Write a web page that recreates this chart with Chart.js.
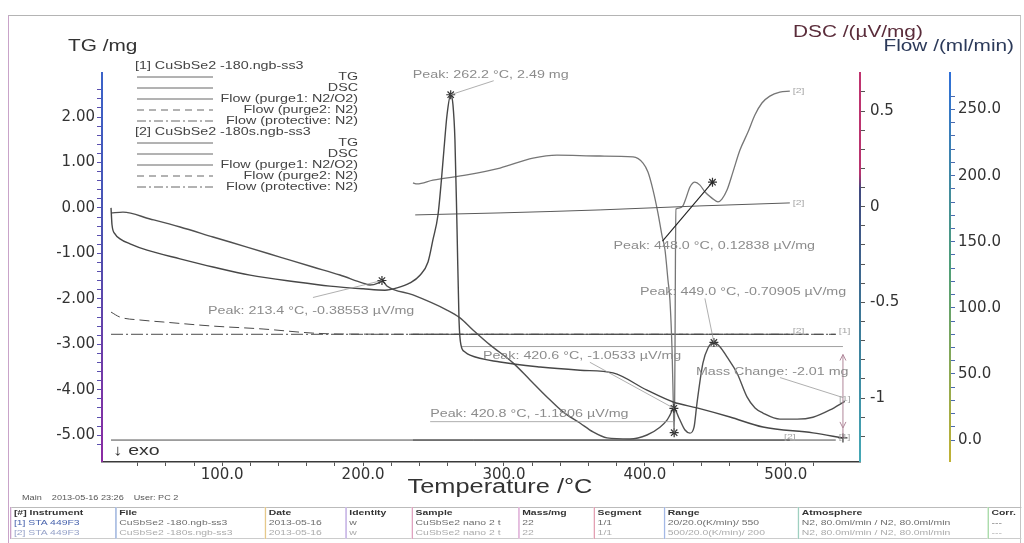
<!DOCTYPE html>
<html>
<head>
<meta charset="utf-8">
<script src="https://cdn.jsdelivr.net/npm/chart.js@4.4.1/dist/chart.umd.min.js"></script>
<style>
body { margin: 0; background: #fff; }
#wrap { position: relative; width: 1024px; height: 543px; overflow: hidden; font-family: "Liberation Sans", Arial, sans-serif; }
#sta { position: absolute; left: 0; top: 0; }
#frame { position: absolute; left: 8px; top: 15px; width: 1011px; height: 540px;
  border-top: 1px solid #b4b4b4; border-left: 1px solid #c9a3c9; border-right: 1px solid #c4c4c4; }
#stamp { position: absolute; left: 22px; top: 494px; font-size: 7px; color: #555; white-space: pre;
  transform: scaleX(1.3); transform-origin: 0 0; }
#runs { position: absolute; left: 10px; top: 507px; width: 777px; border-collapse: collapse; font-size: 8px; table-layout: fixed;
  transform: scaleX(1.3); transform-origin: 0 0; border-top: 1px solid #bbb; border-bottom: 1px solid #ccc; }
#runs td { box-sizing: border-box; height: 10px; line-height: 10px; padding: 0 0 0 2px; white-space: nowrap; overflow: hidden; }
#runs tr.head td { font-weight: bold; color: #333; }
#runs tr.r1 td { color: #6d6d6d; }
#runs tr.r2 td { color: #ababab; }
</style>
</head>
<body>
<div id="wrap">
  <canvas id="sta" width="1024" height="505"></canvas>
  <div id="frame"></div>
  <div id="stamp">Main    2013-05-16 23:26    User: PC 2</div>
  <table id="runs"></table>
</div>
<script>
// run [1]: heating 20 -> 550 °C
const tg1Temp = [21.1, 21.8, 23.9, 27.5, 34.6, 46.7, 70.1, 93.5, 119.8, 153.1, 176.5, 200.0, 215.5, 224.1, 233.3,
  240.4, 246.1, 249.6, 253.2, 255.3, 257.4, 259.6, 262.2, 263.8, 265.2, 266.7, 268.1, 269.5, 272.3, 275.9,
  297.2, 325.6, 354.0, 377.4, 401.5, 420.1, 437.0, 460.4, 483.8, 519.3, 540.6];
const tg1Mass = [0.00, -0.37, -0.57, -0.68, -0.79, -0.93, -1.12, -1.30, -1.48, -1.63, -1.72, -1.78, -1.81, -1.76, -1.65,
  -1.48, -1.19, -0.70, -0.15, 0.51, 1.28, 2.05, 2.49, 2.27, 1.50, -0.48, -2.47, -3.02, -3.17, -3.24,
  -3.39, -3.50, -3.57, -3.63, -4.01, -4.27, -4.40, -4.60, -4.82, -4.95, -5.06];

const dsc1Temp = [21.1, 29.6, 48.8, 70.1, 93.5, 117.6, 141.0, 164.4, 183.6, 199.9, 204.9, 210.6, 213.4, 216.9, 235.4,
  259.5, 268.8, 278.0, 290.1, 306.4, 318.5, 330.5, 341.9, 353.9, 363.2, 373.1, 389.4, 401.5, 410.7, 415.7,
  417.8, 420.6, 424.2, 428.5, 432.0, 434.9, 437.0, 441.2, 444.8, 449.0, 453.4, 458.3, 465.4, 472.5, 478.2,
  483.8, 495.9, 508.0, 519.3, 531.4, 541.9];
const dsc1Signal = [-0.033, -0.028, -0.064, -0.106, -0.158, -0.211, -0.263, -0.315, -0.357, -0.399, -0.409, -0.399, -0.38553, -0.414, -0.461,
  -0.540, -0.581, -0.644, -0.722, -0.816, -0.905, -0.994, -1.072, -1.130, -1.177, -1.208, -1.214, -1.193, -1.152, -1.115,
  -1.089, -1.0533, -1.104, -1.167, -1.183, -1.152, -1.026, -0.817, -0.738, -0.70905, -0.733, -0.785, -0.869, -0.994, -1.052,
  -1.078, -1.110, -1.110, -1.100, -1.062, -1.017];

// run [2]: cooling 500 -> 200 °C (stored in rising temperature)
const tg2Temp = [237.0, 297.2, 368.2, 439.1, 502.9];
const tg2Mass = [-0.154, -0.110, -0.044, 0.044, 0.110];

const dsc2Temp = [235.4, 238.3, 249.6, 273.7, 297.2, 320.6, 337.6, 368.2, 391.6, 398.7, 402.2, 405.8, 409.3, 412.1, 414.3,
  416.4, 417.8, 419.3, 420.3, 420.8, 421.1, 421.4, 421.7, 422.1, 424.2, 427.0, 429.2, 432.0, 435.5, 439.1,
  442.7, 447.6, 451.9, 454.7, 458.3, 462.5, 467.5, 473.2, 478.1, 483.1, 488.7, 495.8, 502.9];
const dsc2Signal = [0.124, 0.119, 0.139, 0.166, 0.202, 0.254, 0.270, 0.265, 0.260, 0.228, 0.181, 0.087, -0.033, -0.148, -0.226,
  -0.383, -0.487, -0.749, -1.062, -1.1806, -1.062, -0.749, -0.278, -0.012, -0.007, 0.004, 0.045, 0.103, 0.12838, 0.113,
  0.077, 0.045, 0.025, 0.040, 0.087, 0.181, 0.296, 0.390, 0.479, 0.542, 0.578, 0.599, 0.604];

// gas flows
const purge2Temp = [21.1, 27.5, 41.7, 58.1, 93.5, 129.0, 164.4, 183.6, 300.0, 420.0, 535.5];
const purge2Flow = [96.8, 93.0, 90.8, 89.3, 86.2, 84.0, 80.9, 80.2, 80.0, 80.0, 80.0];
const run1FlowTemp = [21.1, 535.5];
const run1Protective = [80.0, 80.0];
const run1Purge1 = [0.0, 0.0];
const run2FlowTemp = [235.4, 502.9];
const run2Purge = [80.0, 80.0];
const run2Purge1 = [0.0, 0.0];

// evaluated peaks
const peakAxis = ['yTG', 'yDSC', 'yDSC', 'yDSC', 'yDSC', 'yDSC'];
const peakTemp = [262.2, 213.4, 448.0, 449.0, 420.6, 420.8];
const peakValue = [2.49, -0.38553, 0.12838, -0.70905, -1.0533, -1.1806];
const peakUnit = ['mg', 'µV/mg', 'µV/mg', 'µV/mg', 'µV/mg', 'µV/mg'];

// mass change step of run [1]
const stepTemp = [269.5, 540.6];
const stepStart = -3.05;
const stepEnd = -5.06;

// axis ranges
const tRange = [14.7, 552.7];
const tgRange = [-5.59, 2.99];
const dscRange = [-1.334, 0.704];
const flowRange = [-16.6, 278.4];

const legendRuns = ['[1] CuSbSe2 -180.ngb-ss3', '[2] CuSbSe2 -180s.ngb-ss3'];
const legendItems = ['TG', 'DSC', 'Flow (purge1: N2/O2)', 'Flow (purge2: N2)', 'Flow (protective: N2)'];

const tableHead = ['[#] Instrument', 'File', 'Date', 'Identity', 'Sample', 'Mass/mg', 'Segment', 'Range', 'Atmosphere', 'Corr.'];
const tableRows = [
  ['[1] STA 449F3', 'CuSbSe2 -180.ngb-ss3', '2013-05-16', 'w', 'CuSbSe2 nano 2 t', '22', '1/1', ' 20/20.0(K/min)/ 550', 'N2, 80.0ml/min / N2, 80.0ml/min', '---'],
  ['[2] STA 449F3', 'CuSbSe2 -180s.ngb-ss3', '2013-05-16', 'w', 'CuSbSe2 nano 2 t', '22', '1/1', '500/20.0(K/min)/ 200', 'N2, 80.0ml/min / N2, 80.0ml/min', '---']
];

// ---- table under the plot
const colW = [81, 115, 62, 51, 82, 58, 54, 103, 146, 25];
const colLine = ['#c9a3c9', '#8fa9d9', '#e6c98a', '#b9a3e0', '#e0a3c0', '#d9a0d0', '#e3a0b3', '#a3b8e6', '#9fd0c0', '#a3d9a3'];
const table = document.getElementById('runs');
const cols = document.createElement('colgroup');
colW.forEach(w => {
  const col = document.createElement('col');
  col.style.width = w + 'px';
  cols.appendChild(col);
});
table.appendChild(cols);
[tableHead, ...tableRows].forEach((row, r) => {
  const tr = document.createElement('tr');
  tr.className = r === 0 ? 'head' : 'r' + r;
  row.forEach((txt, c) => {
    const td = document.createElement('td');
    td.textContent = txt;
    td.style.borderLeft = '1px solid ' + colLine[c];
    if (c === 0 && r > 0) td.style.color = r === 1 ? '#4863ad' : '#97a3c9';
    tr.appendChild(td);
  });
  table.appendChild(tr);
});

// ---- chart
const pts = (xs, ys) => xs.map((x, i) => ({ x: x, y: ys[i] }));
const onStep = (v, step) => Math.abs(v / step - Math.round(v / step)) < 1e-6;
const tickFont = { family: '"DejaVu Sans", sans-serif', size: 15 };
const stretch = 1.3;

function curve(label, data, axis, color, width, dash) {
  return {
    label: label, data: data, yAxisID: axis,
    borderColor: color, borderWidth: width, borderDash: dash || [],
    pointRadius: 0, fill: false, cubicInterpolationMode: 'monotone'
  };
}

function wideText(ctx, txt, x, y, size, color, align, family) {
  ctx.save();
  ctx.font = size + 'px ' + (family || '"Liberation Sans", Arial, sans-serif');
  ctx.fillStyle = color;
  ctx.textBaseline = 'middle';
  ctx.textAlign = 'left';
  const w = ctx.measureText(txt).width * stretch;
  const x0 = align === 'right' ? x - w : (align === 'center' ? x - w / 2 : x);
  ctx.translate(x0, y);
  ctx.scale(stretch, 1);
  ctx.fillText(txt, 0, 0);
  ctx.restore();
}

function line(ctx, x1, y1, x2, y2, color, width, dash) {
  ctx.save();
  ctx.strokeStyle = color;
  ctx.lineWidth = width;
  ctx.setLineDash(dash || []);
  ctx.beginPath();
  ctx.moveTo(x1, y1);
  ctx.lineTo(x2, y2);
  ctx.stroke();
  ctx.restore();
}

// where each peak label sits relative to its marker, and its leader line
const peakLabelAt = [[-38, -20], [-174, 30], [-99, 64], [-74, -50], [-191, -52], [-244, -19]];
const peakLeader = [[[43, -14]], [[-69, 17]], [[-50, 59]], [[-9, -44]], [[-84, -46]], [[-244, -11], [0, -11]]];

const decorations = {
  id: 'decorations',
  afterDraw(chart) {
    const ctx = chart.ctx;
    const { top, bottom } = chart.chartArea;
    const sx = chart.scales.x, sTG = chart.scales.yTG, sDSC = chart.scales.yDSC, sFlow = chart.scales.yFlow;

    // coloured value axes
    const axisLine = (x, stops) => {
      const g = ctx.createLinearGradient(0, top, 0, bottom);
      stops.forEach(s => g.addColorStop(s[0], s[1]));
      line(ctx, x, top, x, bottom, g, 2);
    };
    axisLine(sTG.right, [[0, '#3b63c9'], [0.45, '#4d4fae'], [1, '#8c2ba3']]);
    axisLine(sDSC.left, [[0, '#c0336f'], [0.26, '#b8346f'], [0.3, '#41497f'], [0.65, '#3c7b99'], [1, '#45a9b6']]);
    axisLine(sFlow.left, [[0, '#2f6fd8'], [0.5, '#4f9f78'], [1, '#c2b234']]);

    // axis titles
    wideText(ctx, 'TG /mg', 68, 47, 16, '#333');
    wideText(ctx, 'DSC /(µV/mg)', 793, 33, 16, '#5a2c3a');
    wideText(ctx, 'Flow /(ml/min)', 1014, 47, 16, '#2c3a5a', 'right');
    wideText(ctx, 'Temperature /°C', 500, 488, 19.5, '#333', 'center');
    wideText(ctx, '↓ exo', 113, 451, 15, '#333');

    // legend block
    legendRuns.forEach((run, r) => {
      const y0 = 66 + r * 66;
      wideText(ctx, run, 135, y0, 11, '#444');
      legendItems.forEach((item, i) => {
        const y = y0 + 11 + i * 11;
        const dash = i === 3 ? [7, 5] : (i === 4 ? [9, 3, 2, 3] : []);
        line(ctx, 137, y, 213, y, '#666', 1, dash);
        wideText(ctx, item, 358, y, 11, '#444', 'right');
      });
    });

    // peak labels
    peakTemp.forEach((t, i) => {
      const scale = chart.scales[peakAxis[i]];
      const px = sx.getPixelForValue(t), py = scale.getPixelForValue(peakValue[i]);
      const lead = peakLeader[i];
      ctx.save();
      ctx.strokeStyle = i === 2 ? '#222' : '#9a9a9a';
      ctx.lineWidth = i === 2 ? 1.1 : 0.8;
      ctx.beginPath();
      ctx.moveTo(px + lead[0][0], py + lead[0][1]);
      lead.slice(1).forEach(p => ctx.lineTo(px + p[0], py + p[1]));
      ctx.lineTo(px, py);
      ctx.stroke();
      ctx.restore();
      const txt = 'Peak: ' + t.toFixed(1) + ' °C, ' + String(peakValue[i]) + ' ' + peakUnit[i];
      wideText(ctx, txt, px + peakLabelAt[i][0], py + peakLabelAt[i][1], 11, '#8c8c8c');
    });

    // mass change step
    const ax = sx.getPixelForValue(stepTemp[1]);
    const ya = sTG.getPixelForValue(stepStart), yb = sTG.getPixelForValue(stepEnd);
    const arrowCol = '#b0879a';
    line(ctx, ax, ya + 8, ax, yb, arrowCol, 1);
    line(ctx, ax - 3, ya + 14, ax, ya + 8, arrowCol, 1);
    line(ctx, ax + 3, ya + 14, ax, ya + 8, arrowCol, 1);
    line(ctx, ax - 3, yb - 16, ax, yb - 10, arrowCol, 1);
    line(ctx, ax + 3, yb - 16, ax, yb - 10, arrowCol, 1);
    line(ctx, ax - 63, ya + 31, ax, ya + 51, '#9a9a9a', 0.8);
    wideText(ctx, 'Mass Change: ' + (stepEnd - stepStart).toFixed(2) + ' mg', ax - 147, ya + 25, 11, '#8c8c8c');

    // run tags at curve ends
    const tag = (txt, t, v, scale, align, dx, dy) =>
      wideText(ctx, txt, sx.getPixelForValue(t) + dx, scale.getPixelForValue(v) + dy, 8, '#a6a6a6', align);
    tag('[2]', dsc2Temp[dsc2Temp.length - 1], dsc2Signal[dsc2Signal.length - 1], sDSC, 'left', 3, 0);
    tag('[2]', tg2Temp[tg2Temp.length - 1], tg2Mass[tg2Mass.length - 1], sTG, 'left', 3, 0);
    tag('[2]', run2FlowTemp[1], run2Purge[1], sFlow, 'left', 3, -3);
    tag('[1]', run1FlowTemp[1], run1Protective[1], sFlow, 'left', 3, -3);
    tag('[1]', dsc1Temp[dsc1Temp.length - 1], dsc1Signal[dsc1Signal.length - 1], sDSC, 'center', 0, -3);
    tag('[2]', run2FlowTemp[1], run2Purge1[1], sFlow, 'center', 0, -3);
    tag('[1]', run1FlowTemp[1], run1Purge1[1], sFlow, 'left', 3, -3);
  }
};

const markerStyle = { showLine: false, pointStyle: 'star', pointRadius: 4.5, pointBorderColor: '#333', pointBorderWidth: 1.2, pointBackgroundColor: '#333' };
const pick = axis => peakTemp.map((t, i) => ({ x: t, y: peakValue[i], a: peakAxis[i] })).filter(p => p.a === axis);

new Chart(document.getElementById('sta'), {
  type: 'line',
  data: {
    datasets: [
      Object.assign({ label: 'TG peaks', data: pick('yTG'), yAxisID: 'yTG' }, markerStyle),
      Object.assign({ label: 'DSC peaks', data: pick('yDSC'), yAxisID: 'yDSC' }, markerStyle),
      Object.assign({ label: 'step end', data: [{ x: stepTemp[1], y: stepEnd }], yAxisID: 'yTG' }, markerStyle, { pointStyle: 'cross' }),
      curve('TG [1]', pts(tg1Temp, tg1Mass), 'yTG', '#474747', 1.4),
      curve('DSC [1]', pts(dsc1Temp, dsc1Signal), 'yDSC', '#505050', 1.4),
      curve('TG [2]', pts(tg2Temp, tg2Mass), 'yTG', '#5a5a5a', 1),
      curve('DSC [2]', pts(dsc2Temp, dsc2Signal), 'yDSC', '#767676', 1.3),
      curve('Mass step', pts(stepTemp, [stepStart, stepStart]), 'yTG', '#8a8a8a', 0.8),
      curve('Flow purge1 [1]', pts(run1FlowTemp, run1Purge1), 'yFlow', '#4a4a4a', 1),
      curve('Flow purge2 [1]', pts(purge2Temp, purge2Flow), 'yFlow', '#4a4a4a', 1, [10, 5]),
      curve('Flow protective [1]', pts(run1FlowTemp, run1Protective), 'yFlow', '#4a4a4a', 1, [12, 3, 2, 3]),
      curve('Flow purge1 [2]', pts(run2FlowTemp, run2Purge1), 'yFlow', '#4a4a4a', 1),
      curve('Flow purge2 [2]', pts(run2FlowTemp, run2Purge), 'yFlow', '#4a4a4a', 1)
    ]
  },
  options: {
    responsive: false,
    animation: false,
    devicePixelRatio: 1,
    layout: { padding: { top: 72, left: 0, right: 0, bottom: 0 } },
    plugins: { legend: { display: false }, tooltip: { enabled: false } },
    scales: {
      x: {
        type: 'linear', position: 'bottom', min: tRange[0], max: tRange[1],
        afterBuildTicks: s => { s.ticks = s.ticks.filter(t => onStep(t.value, 20)); },
        afterFit: s => { s.height = 43; },
        ticks: { stepSize: 20, autoSkip: false, maxRotation: 0, padding: 0, color: '#333', font: tickFont,
          callback: v => onStep(v, 100) ? v.toFixed(1) : '' },
        grid: { drawOnChartArea: false, tickLength: 4, color: '#555' },
        border: { color: '#3a3a3a', width: 1.5 }
      },
      yTG: {
        type: 'linear', position: 'left', min: tgRange[0], max: tgRange[1],
        afterBuildTicks: s => { s.ticks = s.ticks.filter(t => onStep(t.value, 0.2)); },
        afterFit: s => { s.width = 102; },
        ticks: { stepSize: 0.2, autoSkip: false, padding: 2, color: '#333', font: tickFont,
          callback: v => onStep(v, 1) ? v.toFixed(2) : '' },
        grid: { drawOnChartArea: false, tickLength: 5, color: '#5a4fae' },
        border: { display: false }
      },
      yDSC: {
        type: 'linear', position: 'right', min: dscRange[0], max: dscRange[1],
        afterBuildTicks: s => { s.ticks = s.ticks.filter(t => onStep(t.value, 0.1)); },
        afterFit: s => { s.width = 90; },
        ticks: { stepSize: 0.1, autoSkip: false, padding: 5, color: '#333', font: tickFont,
          callback: v => onStep(v, 0.5) ? String(Math.round(v * 10) / 10) : '' },
        grid: { drawOnChartArea: false, tickLength: 5, color: '#555' },
        border: { display: false }
      },
      yFlow: {
        type: 'linear', position: 'right', min: flowRange[0], max: flowRange[1],
        afterBuildTicks: s => { s.ticks = s.ticks.filter(t => onStep(t.value, 10)); },
        afterFit: s => { s.width = 74; },
        ticks: { stepSize: 10, autoSkip: false, padding: 3, color: '#333', font: tickFont,
          callback: v => onStep(v, 50) ? v.toFixed(1) : '' },
        grid: { drawOnChartArea: false, tickLength: 5, color: '#4a6ab0' },
        border: { display: false }
      }
    }
  },
  plugins: [decorations]
});
</script>
</body>
</html>
